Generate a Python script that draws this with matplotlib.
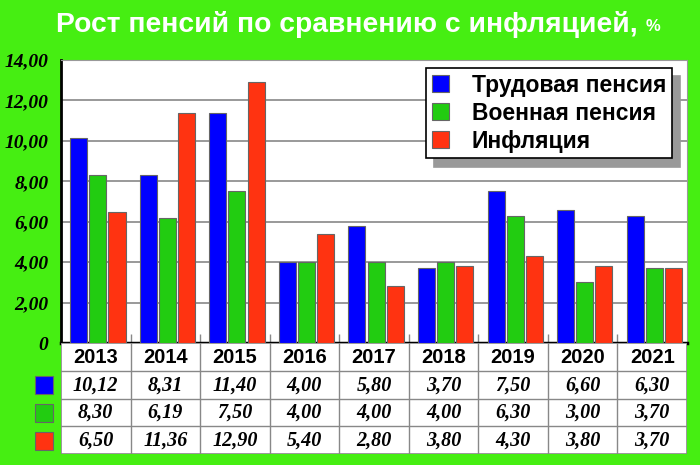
import matplotlib
matplotlib.use("Agg")
import matplotlib.pyplot as plt
import matplotlib.transforms as mtransforms
from matplotlib.patches import Rectangle
import numpy as np

# data
years = ["2013", "2014", "2015", "2016", "2017", "2018", "2019", "2020", "2021"]
labor = [10.12, 8.31, 11.40, 4.00, 5.80, 3.70, 7.50, 6.60, 6.30]
military = [8.30, 6.19, 7.50, 4.00, 4.00, 4.00, 6.30, 3.00, 3.70]
inflation = [6.50, 11.36, 12.90, 5.40, 2.80, 3.80, 4.30, 3.80, 3.70]
series_names = ["Трудовая пенсия", "Военная пенсия", "Инфляция"]
yticks = [0, 2, 4, 6, 8, 10, 12, 14]
ytick_labels = ["0", "2,00", "4,00", "6,00", "8,00", "10,00", "12,00", "14,00"]

bg = "#46ee12"
colors = ["#0000ff", "#22cc11", "#ff3311"]
series = [labor, military, inflation]

fig = plt.figure(figsize=(7, 4.65), dpi=100, facecolor=bg)

# title, "%" smaller right after the main text
title = fig.text(56 / 700, 0.948, "Рост пенсий по сравнению с инфляцией,", ha="left", va="center",
                 color="white", fontsize=20.3, fontweight="bold", family="Liberation Sans")
fig.canvas.draw()
bb = title.get_window_extent()
fig.text((bb.x1 + 8) / 700, 0.943, "%", ha="left", va="center", color="white", fontsize=12,
         fontweight="bold", family="Liberation Sans")

# ---- bar chart ----
ax = fig.add_axes([61 / 700, 122 / 465, 626 / 700, 283 / 465])
x = np.arange(len(years))
w = 0.245
gap = 0.03
for i, (vals, c) in enumerate(zip(series, colors)):
    ax.bar(x + (i - 1) * (w + gap) + 0.03, vals, w, color=c, edgecolor="#666666",
           linewidth=0.8, label=series_names[i], zorder=3)

ax.set_xlim(-0.5, len(years) - 0.5)
ax.set_ylim(0, 14)
ax.set_yticks(yticks)
ax.set_yticklabels(ytick_labels)
ax.set_xticks([])
ax.grid(axis="y", color="#888888", linewidth=1.2, zorder=0)
ax.vlines(np.arange(0.5, len(years) - 0.5), 0, 0.45, color="#888888", linewidth=1, zorder=1)
for lbl in ax.get_yticklabels():
    lbl.set_family("Liberation Serif")
    lbl.set_fontstyle("italic")
    lbl.set_fontweight("bold")
    lbl.set_fontsize(14)
    lbl.set_transform(lbl.get_transform() + mtransforms.ScaledTranslation(0, 4 / 72, fig.dpi_scale_trans))
ax.tick_params(axis="y", length=0, pad=9)
ax.spines["left"].set_linewidth(2)
ax.spines["bottom"].set_linewidth(2.5)
ax.spines["top"].set_color("#999999")
ax.spines["right"].set_color("#999999")

leg = ax.legend(loc="upper right", bbox_to_anchor=(0.976, 0.972), frameon=True, fancybox=False,
                edgecolor="black", handlelength=0.75, handleheight=0.75,
                borderpad=0.25, labelspacing=0.22, handletextpad=1.0, borderaxespad=0,
                shadow={"color": "#999999", "alpha": 1, "ox": 6, "oy": -6},
                prop={"family": "Liberation Sans", "weight": "bold", "size": 16.5})
leg.get_frame().set_linewidth(1.2)
leg.get_frame().set_alpha(1)

# ---- table ----
tab = fig.add_axes([61 / 700, 11 / 465, 626 / 700, 111 / 465])
tab.set_xlim(-0.5, len(years) - 0.5)
tab.set_ylim(4, 0)
tab.axis("off")
tab.add_patch(Rectangle((-0.5, 0), len(years), 4, facecolor="white", edgecolor="#888888",
                        linewidth=1.2, zorder=1))
for r in range(1, 4):
    tab.axhline(r, color="#888888", linewidth=1, zorder=2)
for c in range(1, len(years)):
    tab.axvline(c - 0.5, color="#888888", linewidth=1, zorder=2)
for j, yr in enumerate(years):
    tab.text(j, 0.52, yr, ha="center", va="center", fontsize=14.5, fontweight="bold",
             family="Liberation Sans", zorder=3)
    for r, vals in enumerate(series):
        tab.text(j, r + 1.52, f"{vals[j]:.2f}".replace(".", ","), ha="center", va="center",
                 fontsize=14.5, fontweight="bold", fontstyle="italic",
                 family="Liberation Serif", zorder=3)
for r, c in enumerate(colors):
    sq = Rectangle((35 / 700, (465 - 394 - r * 28) / 465), 18 / 700, 18 / 465,
                   transform=fig.transFigure, facecolor=c, edgecolor="#666666",
                   linewidth=0.8)
    fig.patches.append(sq)

fig.savefig("out.png", dpi=100, facecolor=bg)
